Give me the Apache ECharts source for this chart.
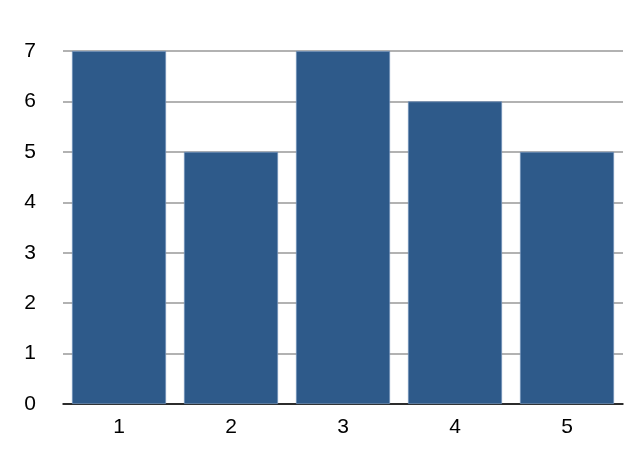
<!DOCTYPE html>
<html><head><meta charset="utf-8">
<script src="https://cdn.jsdelivr.net/npm/echarts@6/dist/echarts.min.js"></script>
<style>html,body{margin:0;padding:0;background:#fff}#c{width:627px;height:467px}</style>
</head><body><div id="c"></div>
<script>
const categories = ['1','2','3','4','5'];
const values = [7, 5, 7, 6, 5];
const yTicks = {min: 0, max: 7, interval: 1};

const chart = echarts.init(document.getElementById('c'), null, {renderer: 'canvas'});
chart.setOption({
  animation: false,
  backgroundColor: '#fff',
  grid: {left: 63, right: 4, top: 51, bottom: 63, containLabel: false},
  xAxis: {
    type: 'category', data: categories,
    axisLine: {show: true, lineStyle: {color: '#000', width: 1.5}},
    axisTick: {show: false},
    axisLabel: {color: '#000', fontSize: 21, fontFamily: 'Liberation Sans, Arial, sans-serif', margin: 13}
  },
  yAxis: {
    type: 'value', min: yTicks.min, max: yTicks.max, interval: yTicks.interval,
    axisLine: {show: false}, axisTick: {show: false},
    axisLabel: {color: '#000', fontSize: 21, fontFamily: 'Liberation Sans, Arial, sans-serif', margin: 27, align: 'right'},
    splitLine: {show: true, lineStyle: {color: '#999', width: 1.5}}
  },
  series: [{
    type: 'bar', data: values, barCategoryGap: '16%',
    itemStyle: {color: '#2e5a8a', borderColor: '#6f8fb8', borderWidth: 0.8}
  }]
});
</script></body></html>
